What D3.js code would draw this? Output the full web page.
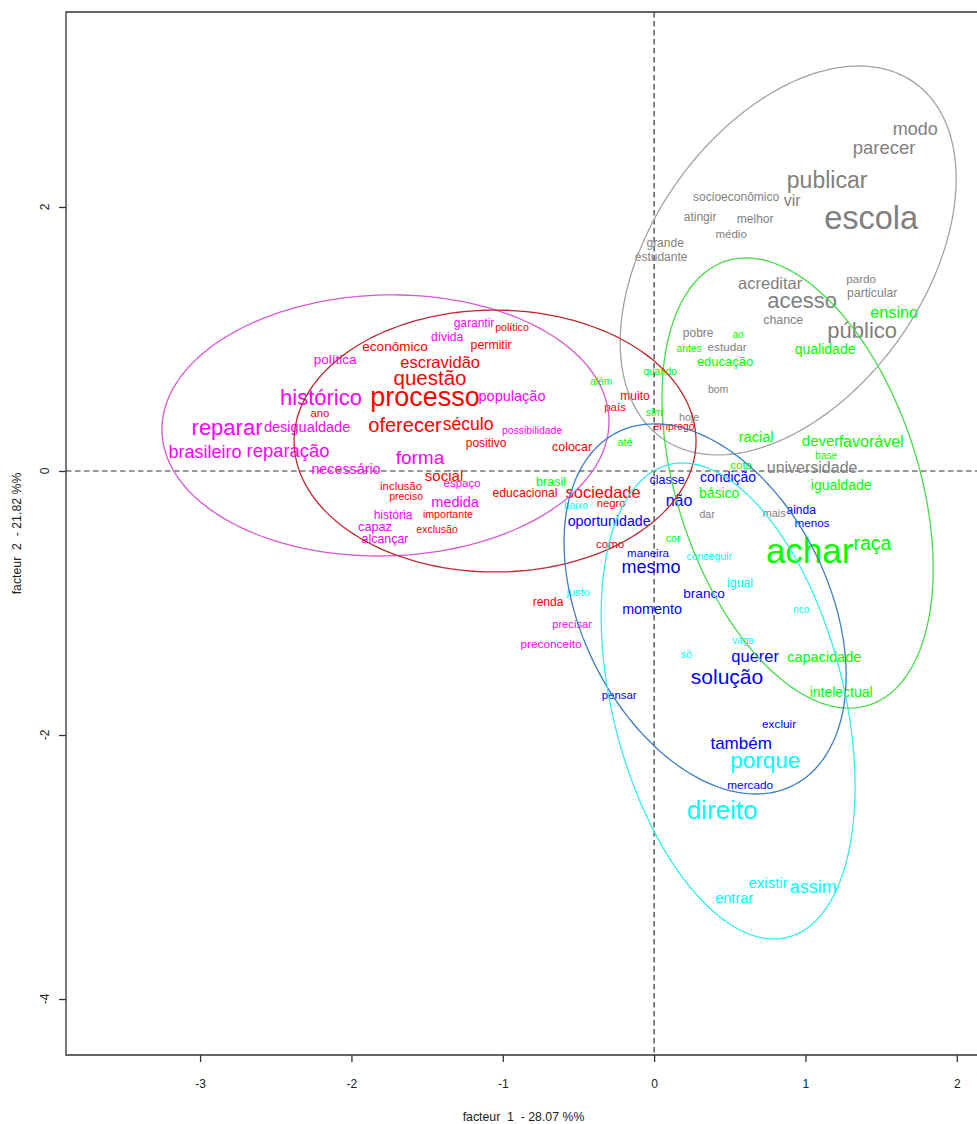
<!DOCTYPE html>
<html><head><meta charset="utf-8">
<script src="https://cdn.jsdelivr.net/npm/d3@7"></script>
<style>body{margin:0;background:#fff}svg{display:block}</style>
</head><body>
<script>
// ---- data: word coordinates on factors 1 and 2, with relative text size ----
const grayWords = ["modo","parecer","publicar","vir","socioeconômico","escola","atingir","melhor","médio","grande","estudante","acreditar","pardo","particular","acesso","chance","público","pobre","estudar","bom","hoje","universidade","dar","mais"];
const grayF1 = [1.725,1.520,1.143,0.912,0.542,1.434,0.304,0.668,0.509,0.073,0.046,0.767,1.368,1.441,0.978,0.853,1.375,0.291,0.482,0.423,0.231,1.044,0.350,0.793];
const grayF2 = [2.591,2.455,2.205,2.053,2.076,1.924,1.924,1.909,1.795,1.727,1.621,1.424,1.455,1.348,1.295,1.144,1.068,1.045,0.939,0.621,0.409,0.030,-0.326,-0.318];
const grayScore = [18,18.5,23,16,12,32.5,12,12,11.5,12,12,16.5,11.7,12.2,22,12.4,22,12,11.7,10.5,10.6,16,10.5,11];

const greenWords = ["ensino","ao","antes","qualidade","educação","quando","além","sim","até","racial","dever","favorável","base","cota","igualdade","básico","brasil","cor","achar","raça","capacidade","intelectual"];
const greenF1 = [1.586,0.555,0.231,1.130,0.469,0.040,-0.350,0.000,-0.192,0.674,1.100,1.434,1.137,0.575,1.236,0.430,-0.681,0.126,1.028,1.443,1.124,1.236];
const greenF2 = [1.205,1.038,0.932,0.924,0.833,0.758,0.682,0.447,0.220,0.258,0.227,0.227,0.121,0.045,-0.106,-0.167,-0.076,-0.508,-0.602,-0.545,-1.409,-1.674];
const greenScore = [16.3,10,10.2,14,13,10,10,11,10.8,14.5,15,16,10,11.6,14,14,12.5,10.8,35,19.5,14.5,14];

const blueWords = ["classe","condição","não","ainda","menos","oportunidade","maneira","mesmo","branco","momento","querer","solução","pensar","excluir","também","mercado"];
const blueF1 = [0.086,0.489,0.165,0.972,1.044,-0.297,-0.040,-0.020,0.330,-0.013,0.668,0.482,-0.231,0.826,0.575,0.635];
const blueF2 = [-0.068,-0.045,-0.220,-0.295,-0.394,-0.379,-0.621,-0.720,-0.924,-1.045,-1.402,-1.553,-1.697,-1.917,-2.061,-2.379];
const blueScore = [12.4,14,16,12,11.7,14.2,11.6,18,13.6,14.4,16.5,21,11.4,11.8,17,11.8];

const cyanWords = ["baixo","conseguir","igual","justo","rico","vaga","só","porque","direito","existir","assim","entrar"];
const cyanF1 = [-0.516,0.364,0.568,-0.502,0.972,0.588,0.212,0.734,0.449,0.753,1.051,0.529];
const cyanF2 = [-0.258,-0.644,-0.848,-0.917,-1.045,-1.280,-1.386,-2.189,-2.568,-3.121,-3.144,-3.235];
const cyanScore = [10,10.5,12.3,11,10,10,11,22.5,26,15,18,14.5];

const redWords = ["econômico","político","permitir","escravidão","questão","processo","ano","oferecer","século","positivo","colocar","muito","país","emprego","social","inclusão","educacional","sociedade","preciso","negro","importante","exclusão","como","renda"];
const redF1 = [-1.712,-0.939,-1.077,-1.414,-1.481,-1.514,-2.208,-1.646,-1.229,-1.110,-0.542,-0.126,-0.258,0.132,-1.388,-1.672,-0.853,-0.337,-1.639,-0.284,-1.362,-1.434,-0.291,-0.701];
const redF2 = [0.947,1.091,0.955,0.826,0.705,0.568,0.439,0.348,0.356,0.212,0.182,0.568,0.485,0.341,-0.038,-0.114,-0.167,-0.159,-0.189,-0.242,-0.326,-0.439,-0.553,-0.992];
const redScore = [13.5,10.6,12.3,16.5,20.5,27,11.4,20,17.6,12,12.4,12,11.5,10.4,15,11.5,12.2,16.5,10.5,11.3,10.6,10.5,11.5,12];

const magentaWords = ["garantir","dívida","política","histórico","população","reparar","desigualdade","possibilidade","brasileiro","reparação","forma","necessário","espaço","medida","história","capaz","alcançar","precisar","preconceito"];
const magentaF1 = [-1.190,-1.368,-2.108,-2.201,-0.939,-2.822,-2.293,-0.806,-2.968,-2.419,-1.547,-2.036,-1.269,-1.315,-1.725,-1.844,-1.778,-0.542,-0.681];
const magentaF2 = [1.121,1.015,0.848,0.561,0.568,0.333,0.333,0.311,0.144,0.159,0.106,0.015,-0.091,-0.235,-0.333,-0.417,-0.515,-1.159,-1.311];
const magentaScore = [12,12,13.5,22,14.5,22,14.5,10.4,18,18.4,19,14.3,11.5,14.5,12,12.7,12.4,11.2,11.8];

// confidence ellipses per class: centre, half-extent on each factor, correlation
const ellipseClass = ["gray","green","magenta","red","blue","cyan"];
const ellipseCx = [0.886,0.948,-1.775,-1.051,0.337,0.489];
const ellipseCy = [1.595,-0.091,0.345,0.227,-1.045,-1.742];
const ellipseSx = [1.110,0.896,1.477,1.328,0.932,0.839];
const ellipseSy = [1.473,1.705,0.989,0.992,1.402,1.803];
const ellipseR  = [0.42,-0.38,0.03,0.0,-0.36,-0.36];

const xTicks = [-3,-2,-1,0,1,2];
const yTicks = [-4,-2,0,2];
const xTitle = "facteur  1  - 28.07 %%";
const yTitle = "facteur  2  - 21.82 %%";

// ---- styles ----
const textColor = {gray:"#7f7f7f",green:"#00ff00",blue:"#0000ff",cyan:"#00ffff",red:"#ff0000",magenta:"#ff00ff"};
const ellipseColor = {gray:"#a3a3a3",green:"#44dd44",magenta:"#d957d1",red:"#c0282d",blue:"#3b7dc4",cyan:"#33eeee"};
const FONT = "'Liberation Sans', Arial, sans-serif";

const W = 977, H = 1124;
const L = 66, R = 981, T = 12, B = 1055;

const x = d3.scaleLinear().domain([-3.886, 2.16]).range([L, R]);
const y = d3.scaleLinear().domain([-4.424, 3.477]).range([B, T]);
const fs = d3.scaleLinear().domain([10, 35]).range([10, 35]);

const svg = d3.select("body").append("svg").attr("width", W).attr("height", H)
  .style("font-family", FONT);

const clip = svg.append("clipPath").attr("id","plotclip").append("rect")
  .attr("x", L).attr("y", T).attr("width", R - L).attr("height", B - T);

const plot = svg.append("g").attr("clip-path","url(#plotclip)");

// dashed reference lines
plot.append("line").attr("x1", x(0)).attr("x2", x(0)).attr("y1", T).attr("y2", B)
  .attr("stroke","#333").attr("stroke-width",1.2).attr("stroke-dasharray","5.5,3.5");
plot.append("line").attr("x1", L).attr("x2", R).attr("y1", y(0)).attr("y2", y(0))
  .attr("stroke","#333").attr("stroke-width",1.2).attr("stroke-dasharray","5.5,3.5");

// words
const groups = [
  ["gray", grayWords, grayF1, grayF2, grayScore],
  ["green", greenWords, greenF1, greenF2, greenScore],
  ["blue", blueWords, blueF1, blueF2, blueScore],
  ["cyan", cyanWords, cyanF1, cyanF2, cyanScore],
  ["red", redWords, redF1, redF2, redScore],
  ["magenta", magentaWords, magentaF1, magentaF2, magentaScore]
];
groups.forEach(([cls, ws, f1, f2, sc]) => {
  const rows = ws.map((w, i) => ({w, a: f1[i], b: f2[i], s: sc[i]}));
  plot.append("g").selectAll("text").data(rows).join("text")
    .attr("x", d => x(d.a)).attr("y", d => y(d.b))
    .attr("dy", "0.36em")
    .attr("text-anchor", "middle")
    .attr("font-size", d => fs(d.s) + "px")
    .attr("fill", textColor[cls])
    .text(d => d.w);
});

// ellipses
const line = d3.line().x(p => x(p[0])).y(p => y(p[1]));
ellipseClass.forEach((cls, i) => {
  const d = Math.acos(ellipseR[i]);
  const pts = d3.range(0, 361, 2).map(deg => {
    const t = deg * Math.PI / 180;
    return [ellipseCx[i] + ellipseSx[i] * Math.cos(t + d / 2),
            ellipseCy[i] + ellipseSy[i] * Math.cos(t - d / 2)];
  });
  plot.append("path").attr("d", line(pts)).attr("fill","none")
    .attr("stroke", ellipseColor[cls]).attr("stroke-width", 1.3);
});

// frame
svg.append("path").attr("d", `M${R},${T}H${L}V${B}H${R}`).attr("fill","none")
  .attr("stroke","#333").attr("stroke-width",1.3);

// axes
const xAxis = svg.append("g").attr("transform", `translate(0,${B})`)
  .call(d3.axisBottom(x).tickValues(xTicks).tickSize(7).tickPadding(17).tickFormat(d => String(d)));
xAxis.select(".domain").remove();
xAxis.selectAll("line").attr("stroke","#333").attr("stroke-width",1.3);
xAxis.selectAll("text").attr("font-size","12px").attr("font-family",FONT).attr("fill","#222");

const yAxis = svg.append("g").attr("transform", `translate(${L},0)`)
  .call(d3.axisLeft(y).tickValues(yTicks).tickSize(7).tickFormat(d => String(d)));
yAxis.select(".domain").remove();
yAxis.selectAll("line").attr("stroke","#333").attr("stroke-width",1.3);
yAxis.selectAll("text").remove();
svg.append("g").selectAll("text").data(yTicks).join("text")
  .attr("transform", d => `translate(49,${y(d)}) rotate(-90)`)
  .attr("text-anchor","middle").attr("font-size","12px").attr("fill","#222")
  .text(d => String(d));

// titles
svg.append("text").attr("x", (L + R) / 2).attr("y", 1121).attr("text-anchor","middle")
  .attr("font-size","12.3px").attr("fill","#222").style("white-space","pre").text(xTitle);
svg.append("text").attr("transform", `translate(21,${(T + B) / 2}) rotate(-90)`)
  .attr("text-anchor","middle").attr("font-size","12.3px").attr("fill","#222")
  .style("white-space","pre").text(yTitle);
</script>
</body></html>
